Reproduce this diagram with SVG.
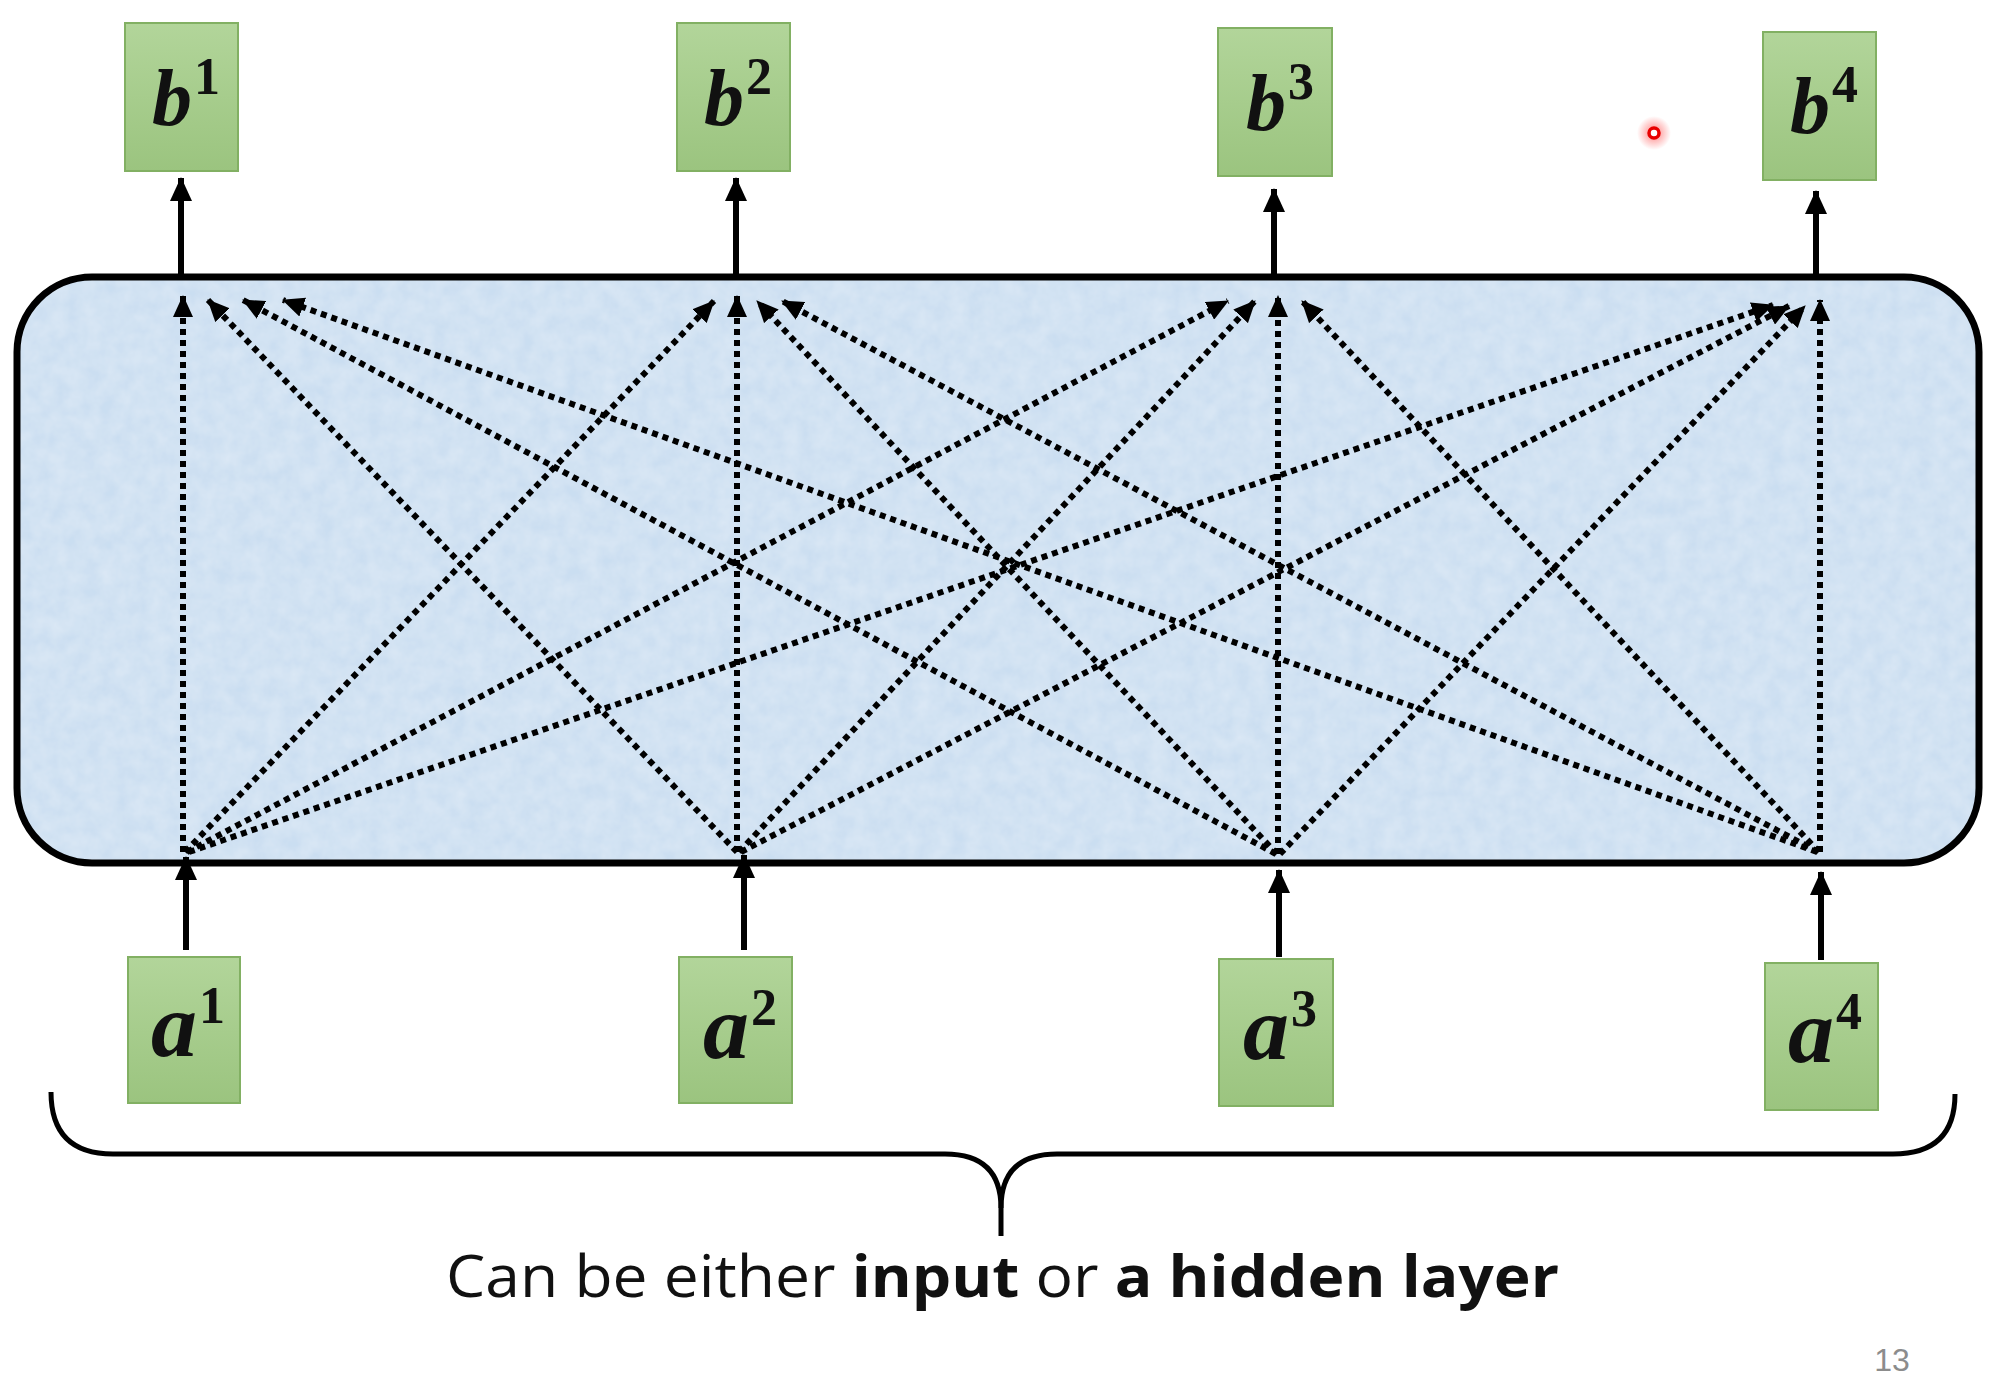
<svg xmlns="http://www.w3.org/2000/svg" width="2000" height="1398" viewBox="0 0 2000 1398">
<defs>
<style>
.node rect{fill:url(#g);stroke:#82b063;stroke-width:2}
.lbl{font-family:"Liberation Serif",serif;font-style:italic;font-weight:bold;fill:#111}
.sup{font-style:normal;font-weight:bold}
.dot{stroke:#000;stroke-width:6;stroke-dasharray:6 5;fill:none;marker-end:url(#hd)}
.solid{stroke:#000;stroke-width:6;fill:none;marker-end:url(#hs)}
</style>
<linearGradient id="g" x1="0" y1="0" x2="0" y2="1">
<stop offset="0" stop-color="#b2d59a"/><stop offset="1" stop-color="#9bc47f"/>
</linearGradient>
<radialGradient id="glow">
<stop offset="0" stop-color="#ff3030" stop-opacity="0.6"/><stop offset="1" stop-color="#ff3030" stop-opacity="0"/>
</radialGradient>
<filter id="tex" x="0" y="0" width="1" height="1">
<feTurbulence type="fractalNoise" baseFrequency="0.06" numOctaves="3" seed="4" result="n"/>
<feColorMatrix in="n" type="matrix" values="0 0 0 0 1  0 0 0 0 1  0 0 0 0 1  0 0 0 0.35 -0.05" result="w"/>
<feComposite in="w" in2="SourceGraphic" operator="in" result="wc"/>
<feMerge><feMergeNode in="SourceGraphic"/><feMergeNode in="wc"/></feMerge>
</filter>
<marker id="hd" markerUnits="userSpaceOnUse" markerWidth="22" markerHeight="20" refX="21" refY="10" orient="auto">
<path d="M0,0 L22,10 L0,20 Z" fill="#000"/>
</marker>
<marker id="hs" markerUnits="userSpaceOnUse" markerWidth="24" markerHeight="22" refX="23" refY="11" orient="auto">
<path d="M0,0 L24,11 L0,22 Z" fill="#000"/>
</marker>
</defs>
<rect width="2000" height="1398" fill="#fff"/>

<g id="layer">
<rect x="17" y="277" width="1962" height="586" rx="75" ry="75" fill="#cadef1" filter="url(#tex)"/>
<rect x="17" y="277" width="1962" height="586" rx="75" ry="75" fill="none" stroke="#000" stroke-width="7"/>
</g>

<g id="connectors">
<line class="solid" x1="181" y1="275" x2="181" y2="178"/>
<line class="solid" x1="736" y1="275" x2="736" y2="178"/>
<line class="solid" x1="1274" y1="275" x2="1274" y2="189"/>
<line class="solid" x1="1816" y1="275" x2="1816" y2="191"/>
<line class="solid" x1="186" y1="950" x2="186" y2="857"/>
<line class="solid" x1="744" y1="950" x2="744" y2="855"/>
<line class="solid" x1="1279" y1="957" x2="1279" y2="870"/>
<line class="solid" x1="1821" y1="960" x2="1821" y2="872"/>
<line class="dot" x1="183" y1="852" x2="183" y2="296"/>
<line class="dot" x1="185" y1="852" x2="714" y2="301"/>
<line class="dot" x1="187" y1="852" x2="1228" y2="301"/>
<line class="dot" x1="189" y1="852" x2="1773" y2="305"/>
<line class="dot" x1="737" y1="852" x2="208" y2="300"/>
<line class="dot" x1="737" y1="852" x2="737" y2="296"/>
<line class="dot" x1="739" y1="852" x2="1255" y2="301"/>
<line class="dot" x1="741" y1="852" x2="1789" y2="306"/>
<line class="dot" x1="1276" y1="854" x2="243" y2="300"/>
<line class="dot" x1="1277" y1="854" x2="757" y2="301"/>
<line class="dot" x1="1278" y1="854" x2="1278" y2="296"/>
<line class="dot" x1="1280" y1="854" x2="1805" y2="306"/>
<line class="dot" x1="1817" y1="852" x2="283" y2="300"/>
<line class="dot" x1="1818" y1="852" x2="782" y2="301"/>
<line class="dot" x1="1819" y1="852" x2="1302" y2="301"/>
<line class="dot" x1="1820" y1="852" x2="1820" y2="300"/>
</g>

<g id="b1" class="node"><rect x="125" y="23" width="113" height="148"/>
<text class="lbl" x="186" y="125" font-size="80" text-anchor="middle">b<tspan class="sup" font-size="52" dx="2" dy="-31">1</tspan></text></g>
<g id="b2" class="node"><rect x="677" y="23" width="113" height="148"/>
<text class="lbl" x="738" y="125" font-size="80" text-anchor="middle">b<tspan class="sup" font-size="52" dx="2" dy="-31">2</tspan></text></g>
<g id="b3" class="node"><rect x="1218" y="28" width="114" height="148"/>
<text class="lbl" x="1280" y="130" font-size="80" text-anchor="middle">b<tspan class="sup" font-size="52" dx="2" dy="-31">3</tspan></text></g>
<g id="b4" class="node"><rect x="1763" y="32" width="113" height="148"/>
<text class="lbl" x="1824" y="133" font-size="80" text-anchor="middle">b<tspan class="sup" font-size="52" dx="2" dy="-31">4</tspan></text></g>

<g id="a1" class="node"><rect x="128" y="957" width="112" height="146"/>
<text class="lbl" x="188" y="1056" font-size="92" text-anchor="middle">a<tspan class="sup" font-size="52" dx="2" dy="-33">1</tspan></text></g>
<g id="a2" class="node"><rect x="679" y="957" width="113" height="146"/>
<text class="lbl" x="740" y="1058" font-size="92" text-anchor="middle">a<tspan class="sup" font-size="52" dx="2" dy="-33">2</tspan></text></g>
<g id="a3" class="node"><rect x="1219" y="959" width="114" height="147"/>
<text class="lbl" x="1280" y="1059" font-size="92" text-anchor="middle">a<tspan class="sup" font-size="52" dx="2" dy="-33">3</tspan></text></g>
<g id="a4" class="node"><rect x="1765" y="963" width="113" height="147"/>
<text class="lbl" x="1825" y="1062" font-size="92" text-anchor="middle">a<tspan class="sup" font-size="52" dx="2" dy="-33">4</tspan></text></g>

<g id="brace" fill="none" stroke="#000" stroke-width="5">
<path d="M51 1092 Q51 1154 113 1154 L945 1154 Q1001 1154 1001 1208 L1001 1236"/>
<path d="M1955 1094 Q1955 1154 1893 1154 L1057 1154 Q1001 1154 1001 1208"/>
</g>

<text id="caption" x="446" y="1297" font-family="'Open Sans','Liberation Sans',sans-serif" font-size="58" fill="#111" textLength="1113" lengthAdjust="spacingAndGlyphs">Can be either <tspan font-weight="bold">input</tspan> or <tspan font-weight="bold">a hidden layer</tspan></text>

<text id="page" x="1892" y="1371" font-family="'Liberation Sans',sans-serif" font-size="32" fill="#8c8c8c" text-anchor="middle">13</text>

<g id="pointer">
<circle cx="1654" cy="133" r="17" fill="url(#glow)"/>
<circle cx="1654" cy="133" r="5" fill="#fff" stroke="#e80000" stroke-width="3.5"/>
</g>
</svg>
